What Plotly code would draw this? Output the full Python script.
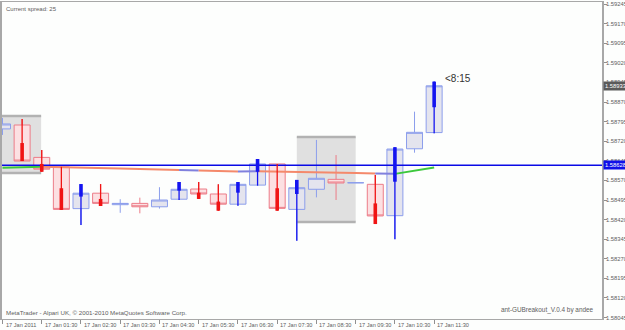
import plotly.graph_objects as go

# ---------------- data ----------------
bar_index = list(range(23))
opens  = [1.58767,1.58782,1.58658,1.58622,1.58462,1.58521,1.58477,1.58482,1.58469,1.58498,1.58537,1.58518,1.58479,1.58552,1.58633,1.58459,1.58536,1.58574,1.58561,1.58555,1.58435,1.58691,1.58753]
highs  = [1.58809,1.58805,1.58686,1.58622,1.58556,1.58556,1.58498,1.58504,1.58544,1.58564,1.58564,1.58555,1.58564,1.58652,1.58633,1.58572,1.58725,1.58667,1.58561,1.58591,1.58697,1.58833,1.58948]
lows   = [1.58744,1.58644,1.58603,1.58457,1.58399,1.58472,1.58446,1.58444,1.58462,1.58495,1.58499,1.58454,1.58473,1.58550,1.58454,1.58339,1.58505,1.58495,1.58561,1.58403,1.58345,1.58676,1.58750]
closes = [1.58786,1.58644,1.58613,1.58459,1.58521,1.58482,1.58482,1.58469,1.58495,1.58536,1.58518,1.58479,1.58555,1.58633,1.58463,1.58542,1.58578,1.58560,1.58561,1.58434,1.58690,1.58754,1.58932]

ha_high  = [None,1.58805,1.58686,1.58622,1.58556,1.58556,None,None,None,1.58564,1.58564,1.58555,1.58564,1.58652,1.58633,1.58572,None,None,None,1.58591,1.58697,None,1.58948]
ha_low   = [None,1.58644,1.58603,1.58457,1.58399,1.58472,None,None,None,1.58495,1.58499,1.58454,1.58473,1.58550,1.58454,1.58339,None,None,None,1.58403,1.58345,None,1.58750]
ha_open  = [None,1.58713,1.58633,1.58540,1.58508,1.58499,None,None,None,1.58531,1.58523,1.58489,1.58523,1.58603,1.58540,1.58518,None,None,None,1.58482,1.58565,None,1.58850]
ha_close = [None,1.58644,1.58603,1.58457,1.58556,1.58472,None,None,None,1.58564,1.58499,1.58454,1.58564,1.58652,1.58454,1.58572,None,None,None,1.58403,1.58697,None,1.58948]

ma_values = [1.58618,1.58620,1.58622,1.58621,1.58619,1.58617,1.58616,1.58614,1.58611,1.58610,1.58608,1.58606,1.58604,1.58605,1.58604,1.58602,1.58601,1.58599,1.58598,1.58596,1.58595,1.58607,1.58619]
ma_state  = [None,"up","up","down","down","down","down","down","down","down","flat","down","down","flat","down","down","down","down","down","down","flat","up","up"]

box_start  = [-0.5, 15.0]
box_end    = [1.97, 18.0]
box_top    = [1.58816, 1.58736]
box_bottom = [1.58598, 1.58411]

level_price = 1.58628
bid_price = 1.58933
timer_text = "<8:15"

date_ticks = [0,2,4,6,8,10,12,14,16,18,20,22]
date_labels = ["17 Jan 2011","17 Jan 01:30","17 Jan 02:30","17 Jan 03:30","17 Jan 04:30","17 Jan 05:30",
               "17 Jan 06:30","17 Jan 07:30","17 Jan 08:30","17 Jan 09:30","17 Jan 10:30","17 Jan 11:30"]
price_ticks = [round(1.58045 + 0.00075*k, 5) for k in range(17)]

# ---------------- styles ----------------
FONT = "Liberation Sans"
TXT = "#606060"
BULL_LINE, BULL_FILL = "#8C9EEC", "#E4E4EE"
BEAR_LINE, BEAR_FILL = "#EC7C88", "#FCE0E2"
HA_BULL, HA_BEAR = "#1414F0", "#F01414"
MA_COL = {"up": "#3CC83C", "down": "#F4896B", "flat": "#8080DD"}

fig = go.Figure()

# breakout boxes
for x0, x1, lo, hi in zip(box_start, box_end, box_bottom, box_top):
    fig.add_shape(type="rect", x0=x0, x1=x1, y0=lo, y1=hi, layer="below",
                  fillcolor="#E0E0E0", line=dict(width=0))
    for yy in (lo, hi):
        fig.add_shape(type="line", x0=x0, x1=x1, y0=yy, y1=yy, layer="below",
                      line=dict(color="#B2B2B2", width=2.5))

# chart candles
fig.add_trace(go.Candlestick(
    x=bar_index, open=opens, high=highs, low=lows, close=closes,
    increasing=dict(line=dict(color=BULL_LINE, width=1), fillcolor=BULL_FILL),
    decreasing=dict(line=dict(color=BEAR_LINE, width=1), fillcolor=BEAR_FILL),
    whiskerwidth=0, showlegend=False, hoverinfo="skip"))

# moving average, coloured by state
i = 1
while i < len(ma_values):
    st = ma_state[i]
    j = i
    while j + 1 < len(ma_values) and ma_state[j + 1] == st:
        j += 1
    xs = bar_index[i - 1:j + 1]
    ys = ma_values[i - 1:j + 1]
    fig.add_trace(go.Scatter(x=xs, y=ys, mode="lines", line=dict(color=MA_COL[st], width=2),
                             showlegend=False, hoverinfo="skip"))
    i = j + 1

# level line
fig.add_trace(go.Scatter(x=[-1, 40], y=[level_price, level_price], mode="lines",
                         line=dict(color="#0A0AE6", width=1.6), showlegend=False, hoverinfo="skip"))

# Heiken Ashi overlay
for bull, col in ((True, HA_BULL), (False, HA_BEAR)):
    tx, ty, kx, ky = [], [], [], []
    for k in bar_index:
        if ha_open[k] is None:
            continue
        if (ha_close[k] > ha_open[k]) != bull:
            continue
        tx += [k, k, None]; ty += [ha_low[k], ha_high[k], None]
        kx += [k, k, None]; ky += [ha_open[k], ha_close[k], None]
    fig.add_trace(go.Scatter(x=tx, y=ty, mode="lines", line=dict(color=col, width=1.3),
                             showlegend=False, hoverinfo="skip"))
    fig.add_trace(go.Scatter(x=kx, y=ky, mode="lines", line=dict(color=col, width=3.6),
                             showlegend=False, hoverinfo="skip"))

ann = []
for t, lab in zip(date_ticks, date_labels):
    ann.append(dict(x=t, y=0, xref="x", yref="paper", text=lab, showarrow=False,
                    xanchor="left", yanchor="top", xshift=1, yshift=-1,
                    font=dict(family=FONT, size=5.6, color=TXT)))
ann.append(dict(x=0, y=1, xref="paper", yref="paper", text="Current spread: 25", showarrow=False,
                xanchor="left", yanchor="top", xshift=2, yshift=-2, font=dict(family=FONT, size=6.0, color=TXT)))
ann.append(dict(x=0, y=0, xref="paper", yref="paper",
                text="MetaTrader - Alpari UK, © 2001-2010 MetaQuotes Software Corp.", showarrow=False,
                xanchor="left", yanchor="bottom", xshift=2, yshift=1, font=dict(family=FONT, size=6.2, color=TXT)))
ann.append(dict(x=1, y=0, xref="paper", yref="paper", text="ant-GUBreakout_V.0.4 by andee", showarrow=False,
                xanchor="right", yanchor="bottom", xshift=-6, yshift=3, font=dict(family=FONT, size=6.4, color=TXT)))
ann.append(dict(x=22, y=1.58961, xref="x", yref="y", text=timer_text, showarrow=False,
                xanchor="left", yanchor="middle", xshift=9, font=dict(family=FONT, size=10, color="#333333")))
ann.append(dict(x=1, y=bid_price, xref="paper", yref="y", text=f"{bid_price:.5f}", showarrow=False,
                xanchor="left", yanchor="middle", xshift=1, bgcolor="#5A5A5A", borderpad=1,
                font=dict(family=FONT, size=5.8, color="#FFFFFF")))
ann.append(dict(x=1, y=level_price, xref="paper", yref="y", text=f"{level_price:.5f}", showarrow=False,
                xanchor="left", yanchor="middle", xshift=1, bgcolor="#1010E8", borderpad=1,
                font=dict(family=FONT, size=5.8, color="#FFFFFF")))

fig.update_layout(
    width=625, height=330, margin=dict(l=2, r=23, t=2, b=11),
    paper_bgcolor="#FDFEFD", plot_bgcolor="#FDFEFD",
    boxgap=0.185, boxgroupgap=0,
    showlegend=False, annotations=ann,
    font=dict(family=FONT, size=6.0, color=TXT),
    xaxis=dict(range=[-0.0255, 30.555], showgrid=False, zeroline=False, rangeslider=dict(visible=False),
               tickmode="array", tickvals=date_ticks, showticklabels=False, automargin=False,
               ticks="outside", ticklen=4, tickcolor="#909090",
               showline=True, mirror=True, linecolor="#A8A8A8", linewidth=1),
    yaxis=dict(range=[1.580396, 1.592527], side="right", showgrid=False, zeroline=False, automargin=False,
               tickmode="array", tickvals=price_ticks, ticktext=[f"{v:.5f}" for v in price_ticks],
               ticks="outside", ticklen=3, tickcolor="#909090", ticklabelstandoff=-2,
               tickfont=dict(family=FONT, size=5.8, color=TXT),
               showline=True, mirror=True, linecolor="#A8A8A8", linewidth=1.5),
)

fig.write_html("out.html")
